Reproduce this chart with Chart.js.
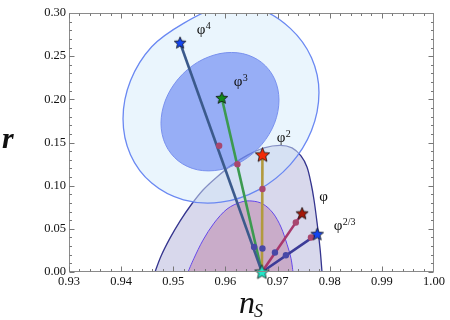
<!DOCTYPE html>
<html><head><meta charset="utf-8">
<style>html,body{margin:0;padding:0;background:#fff}</style>
<script src="https://cdn.jsdelivr.net/npm/chart.js@4"></script>
</head><body>
<canvas id="c" width="450" height="320" style="width:450px;height:320px;display:block"></canvas>
<script>
// ---------- data ----------
const xTicks = [0.93, 0.94, 0.95, 0.96, 0.97, 0.98, 0.99, 1.00];
const yTicks = [0.00, 0.05, 0.10, 0.15, 0.20, 0.25, 0.30];

const modelBase = ['φ', 'φ', 'φ', 'φ', 'φ'];
const modelSup  = ['4', '3', '2', '', '2/3'];
const starNs = [0.9513, 0.9593, 0.9671, 0.9747, 0.9776];
const starR  = [0.2656, 0.2016, 0.1357, 0.0679, 0.0438];
const attractorNs = [0.9670];
const attractorR  = [0.0000];

const upperDotNs = [0.9588, 0.9623, 0.9671, 0.9735, 0.9764];
const upperDotR  = [0.1462, 0.1249, 0.0962, 0.0574, 0.0400];
const lowerDotNs = [0.9655, 0.9671, 0.9695, 0.9716];
const lowerDotR  = [0.0290, 0.0272, 0.0226, 0.0194];

const labelNs = [0.95532, 0.96241, 0.97066, 0.97881, 0.98159];
const labelR  = [0.2799, 0.2194, 0.1543, 0.0863, 0.0531];

// contours
const outerBlueNs = [0.97794,0.97651,0.97244,0.96634,0.95915,0.95196,0.94586,0.94179,0.94036,0.94179,0.94586,0.95196,0.95915,0.96634,0.97244,0.97651];
const outerBlueR  = [0.2078,0.1638,0.1244,0.0952,0.0809,0.0836,0.1030,0.1359,0.1776,0.2215,0.2609,0.2880,0.3078,0.3049,0.2822,0.2482];
const innerBlueNs = [0.97027,0.96941,0.96696,0.96329,0.95896,0.95462,0.95096,0.94851,0.94764,0.94851,0.95096,0.95462,0.95896,0.96329,0.96696,0.96941];
const innerBlueR  = [0.1991,0.1722,0.1476,0.1286,0.1184,0.1184,0.1287,0.1476,0.1723,0.1992,0.2238,0.2428,0.2530,0.2530,0.2427,0.2238];
const outerPurpleNs = [0.94649,0.94764,0.94937,0.95129,0.95340,0.95570,0.95838,0.96126,0.96433,0.96740,0.97047,0.97277,0.97449,0.97564,0.97641,0.97699,0.97756,0.97814,0.97852];
const outerPurpleR  = [0.0000,0.0183,0.0392,0.0590,0.0776,0.0950,0.1101,0.1241,0.1357,0.1438,0.1467,0.1438,0.1345,0.1217,0.1031,0.0834,0.0578,0.0276,0.0000];
const innerPurpleNs = [0.95282,0.95397,0.95570,0.95781,0.96030,0.96299,0.96510,0.96720,0.96912,0.97066,0.97181,0.97257,0.97296];
const innerPurpleR  = [0.0000,0.0159,0.0369,0.0566,0.0729,0.0810,0.0822,0.0787,0.0683,0.0520,0.0322,0.0159,0.0000];

// ---------- styles ----------
const SERIF = '"Liberation Serif", "DejaVu Serif", serif';
const lineColors = ['#3b5a8c', '#3c9a50', '#b29a3e', '#a8386c', '#3c3c98'];
const starColors = ['#1445f0', '#118a1a', '#f22a05', '#a51808', '#1445f0'];
const starSizes  = [6.2, 6.2, 7.6, 6.4, 6.6];

function makeStar(R, fill) {
  const c = document.createElement('canvas');
  const s = Math.ceil(2 * R + 3);
  c.width = s; c.height = s;
  const g = c.getContext('2d');
  const cx = s / 2, cy = s / 2 + R * 0.06, r = R * 0.45;
  g.beginPath();
  for (let k = 0; k < 10; k++) {
    const a = -Math.PI / 2 + k * Math.PI / 5;
    const rr = k % 2 === 0 ? R : r;
    const px = cx + rr * Math.cos(a), py = cy + rr * Math.sin(a);
    k === 0 ? g.moveTo(px, py) : g.lineTo(px, py);
  }
  g.closePath();
  g.fillStyle = fill; g.fill();
  g.lineWidth = 0.8; g.strokeStyle = '#111'; g.lineJoin = 'miter'; g.stroke();
  return c;
}

const starImgs = starColors.map((c, i) => makeStar(starSizes[i], c));
const cyanStar = makeStar(7.6, '#22e6c8');

const datasets = [];
datasets.push({
  data: starNs.map((v, i) => ({x: v, y: starR[i]})).concat([{x: attractorNs[0], y: attractorR[0]}]),
  pointStyle: starImgs.concat([cyanStar]),
  pointRadius: 6, pointHoverRadius: 6, showLine: false, clip: false
});
datasets.push({
  data: upperDotNs.map((v, i) => ({x: v, y: upperDotR[i]})),
  pointRadius: 3.2, pointBackgroundColor: '#a8476f', pointBorderWidth: 0, showLine: false
});
datasets.push({
  data: lowerDotNs.map((v, i) => ({x: v, y: lowerDotR[i]})),
  pointRadius: 3.2, pointBackgroundColor: '#4848a6', pointBorderWidth: 0, showLine: false
});
for (let i = 0; i < starNs.length; i++) {
  datasets.push({
    data: [{x: starNs[i], y: starR[i]}, {x: attractorNs[0], y: attractorR[0]}],
    showLine: true, borderColor: lineColors[i], borderWidth: 2.6, pointRadius: 0, fill: false
  });
}

// ---------- plugins ----------
function toPx(chart, ns, rr) {
  const xs = chart.scales.x, ys = chart.scales.y;
  return ns.map((v, i) => [xs.getPixelForValue(v), ys.getPixelForValue(rr[i])]);
}
function spline(ctx, pts, closed) {
  const n = pts.length;
  ctx.moveTo(pts[0][0], pts[0][1]);
  const segs = closed ? n : n - 1;
  for (let i = 0; i < segs; i++) {
    const p0 = closed ? pts[(i - 1 + n) % n] : pts[Math.max(i - 1, 0)];
    const p1 = pts[i];
    const p2 = pts[(i + 1) % n];
    const p3 = closed ? pts[(i + 2) % n] : pts[Math.min(i + 2, n - 1)];
    ctx.bezierCurveTo(p1[0] + (p2[0] - p0[0]) / 6, p1[1] + (p2[1] - p0[1]) / 6,
                      p2[0] - (p3[0] - p1[0]) / 6, p2[1] - (p3[1] - p1[1]) / 6,
                      p2[0], p2[1]);
  }
}
const contourPlugin = {
  id: 'contours',
  beforeDatasetsDraw(chart) {
    const ctx = chart.ctx, a = chart.chartArea;
    ctx.save();
    ctx.beginPath(); ctx.rect(a.left, a.top, a.right - a.left, a.bottom - a.top); ctx.clip();
    let p = toPx(chart, outerPurpleNs, outerPurpleR);
    ctx.beginPath(); spline(ctx, p, false); ctx.closePath();
    ctx.fillStyle = 'rgba(100,100,180,0.25)'; ctx.fill();
    ctx.beginPath(); spline(ctx, p, false);
    ctx.strokeStyle = '#34348e'; ctx.lineWidth = 1.3; ctx.stroke();
    p = toPx(chart, innerPurpleNs, innerPurpleR);
    ctx.beginPath(); spline(ctx, p, false); ctx.closePath();
    ctx.fillStyle = 'rgba(164,70,119,0.30)'; ctx.fill();
    ctx.beginPath(); spline(ctx, p, false);
    ctx.strokeStyle = '#6448ea'; ctx.lineWidth = 1; ctx.stroke();
    p = toPx(chart, outerBlueNs, outerBlueR);
    ctx.beginPath(); spline(ctx, p, true); ctx.closePath();
    ctx.fillStyle = 'rgba(213,235,251,0.5)'; ctx.fill();
    ctx.strokeStyle = '#6a88f2'; ctx.lineWidth = 1.3; ctx.stroke();
    p = toPx(chart, innerBlueNs, innerBlueR);
    ctx.beginPath(); spline(ctx, p, true); ctx.closePath();
    ctx.fillStyle = 'rgba(70,103,239,0.5)'; ctx.fill();
    ctx.strokeStyle = '#7890ee'; ctx.lineWidth = 1; ctx.stroke();
    ctx.restore();
  },
  afterDatasetsDraw(chart) {
    const ctx = chart.ctx, a = chart.chartArea;
    const xs = chart.scales.x, ys = chart.scales.y;
    ctx.save();
    ctx.strokeStyle = '#8a8a8a'; ctx.lineWidth = 1;
    ctx.strokeRect(Math.round(a.left) + 0.5, Math.round(a.top) + 0.5,
                   Math.round(a.right - a.left) - 1, Math.round(a.bottom - a.top) - 1);
    ctx.beginPath();
    const L = Math.round(a.left) + 0.5, R = Math.round(a.right) - 0.5;
    const T = Math.round(a.top) + 0.5, B = Math.round(a.bottom) - 0.5;
    for (let i = 0; i < xTicks.length - 1; i++) {
      for (let k = 0; k < 5; k++) {
        const v = xTicks[i] + (xTicks[i + 1] - xTicks[i]) * k / 5;
        const px = Math.round(xs.getPixelForValue(v)) + 0.5;
        const len = k === 0 ? 5 : 2.5;
        ctx.moveTo(px, B); ctx.lineTo(px, B - len);
        ctx.moveTo(px, T); ctx.lineTo(px, T + len);
      }
    }
    for (let i = 0; i < yTicks.length - 1; i++) {
      for (let k = 0; k < 5; k++) {
        const v = yTicks[i] + (yTicks[i + 1] - yTicks[i]) * k / 5;
        const py = Math.round(ys.getPixelForValue(v)) + 0.5;
        const len = k === 0 ? 5 : 2.5;
        ctx.moveTo(L, py); ctx.lineTo(L + len, py);
        ctx.moveTo(R, py); ctx.lineTo(R - len, py);
      }
    }
    ctx.strokeStyle = '#777'; ctx.stroke();
    ctx.fillStyle = '#111';
    for (let i = 0; i < labelNs.length; i++) {
      const px = xs.getPixelForValue(labelNs[i]), py = ys.getPixelForValue(labelR[i]);
      ctx.font = '15px ' + SERIF;
      ctx.textAlign = 'center'; ctx.textBaseline = 'alphabetic';
      const w = ctx.measureText(modelBase[i]).width;
      ctx.fillText(modelBase[i], px, py + 3.5);
      if (modelSup[i]) {
        ctx.font = '10px ' + SERIF; ctx.textAlign = 'left';
        ctx.fillText(modelSup[i], px + w / 2 + 0.5, py - 1.5);
      }
    }
    ctx.restore();
  },
  afterDraw(chart) {
    const ctx = chart.ctx;
    ctx.save();
    ctx.fillStyle = '#111'; ctx.textAlign = 'left'; ctx.textBaseline = 'alphabetic';
    ctx.font = 'italic bold 30px ' + SERIF;
    ctx.fillText('r', 2, 148);
    ctx.font = 'italic 32px ' + SERIF;
    ctx.fillText('n', 239, 313);
    ctx.font = 'italic 18px ' + SERIF;
    ctx.fillText('S', 254, 317);
    ctx.restore();
  }
};

new Chart(document.getElementById('c'), {
  type: 'scatter',
  data: { datasets },
  options: {
    responsive: false, animation: false, devicePixelRatio: 1,
    layout: { padding: { top: 13, right: 16, left: 0, bottom: 0 } },
    plugins: { legend: { display: false }, tooltip: { enabled: false } },
    scales: {
      x: {
        type: 'linear', min: 0.93, max: 1.00,
        grid: { display: false, drawTicks: false }, border: { display: false },
        afterBuildTicks: s => { s.ticks = xTicks.map(v => ({ value: v })); },
        afterFit: s => { s.height = 48; },
        ticks: { padding: 2, color: '#111', font: { family: SERIF, size: 12.5 }, maxRotation: 0,
                 callback: v => v.toFixed(2) }
      },
      y: {
        type: 'linear', min: 0, max: 0.30,
        grid: { display: false, drawTicks: false }, border: { display: false },
        afterBuildTicks: s => { s.ticks = yTicks.map(v => ({ value: v })); },
        afterFit: s => { s.width = 69; },
        ticks: { padding: 3, color: '#111', font: { family: SERIF, size: 12.5 },
                 callback: v => v.toFixed(2) }
      }
    }
  },
  plugins: [contourPlugin]
});
</script>
</body></html>
